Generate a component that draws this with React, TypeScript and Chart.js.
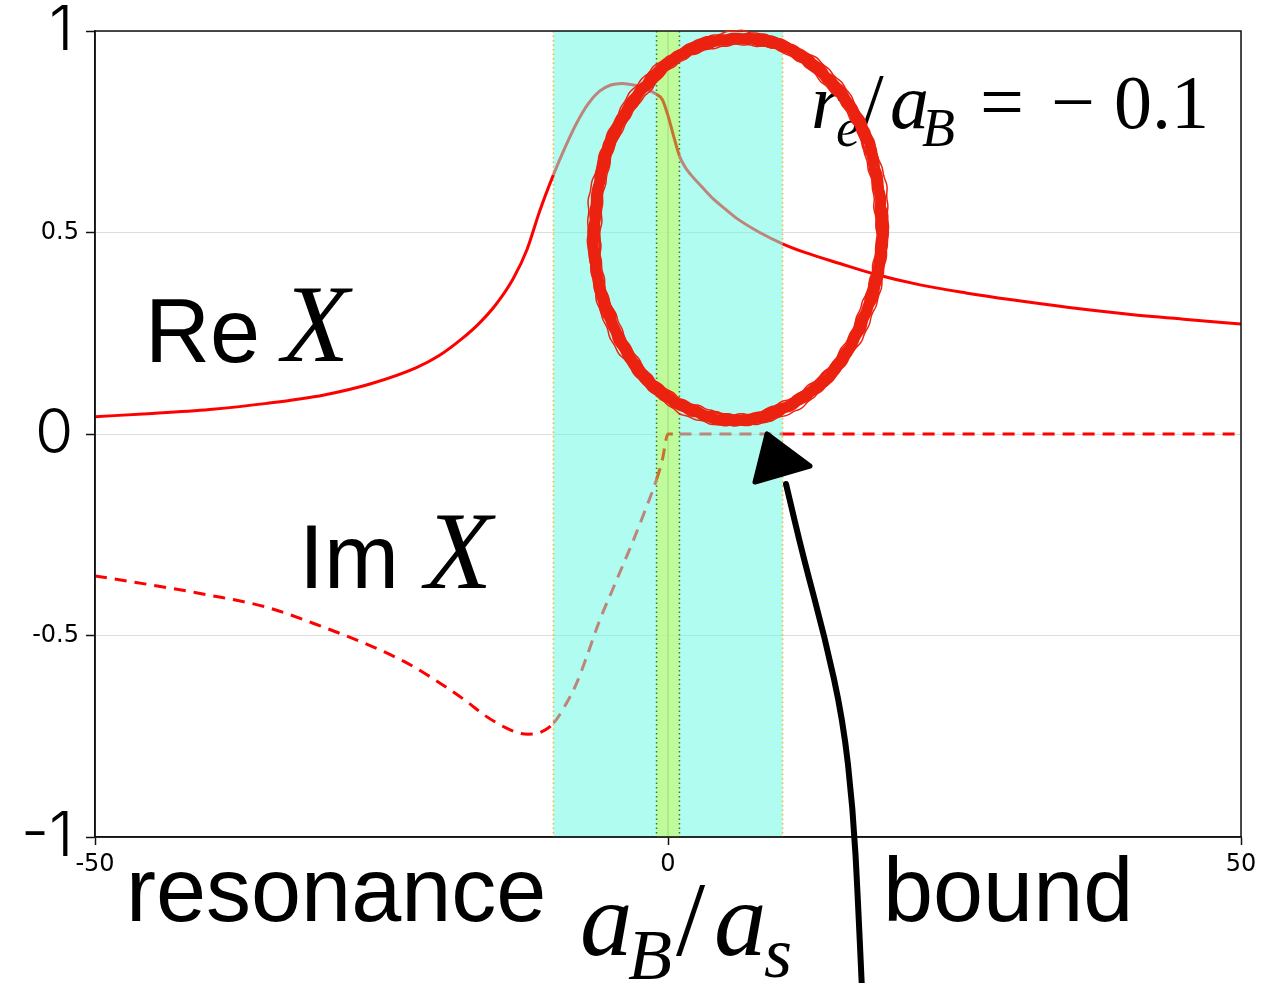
import React, { useEffect, useRef } from "react";
import { Chart, registerables } from "chart.js";

Chart.register(...registerables);

// ---- data ----
const reXs = [-50, -45, -40, -35, -30, -26, -22, -20, -18, -16.5, -15, -13.5, -12.3, -11.2, -10, -9, -8, -7, -6, -5, -4, -3, -2, -1, -0.5, 0, 0.5, 1, 1.5, 2, 3, 4, 5, 6, 8, 10, 12, 15, 18, 22, 26, 30, 35, 40, 45, 50];
const reYs = [0.043, 0.051, 0.061, 0.076, 0.097, 0.124, 0.164, 0.194, 0.236, 0.274, 0.322, 0.386, 0.458, 0.553, 0.643, 0.71, 0.77, 0.818, 0.85, 0.866, 0.87, 0.866, 0.857, 0.843, 0.83, 0.79, 0.738, 0.69, 0.662, 0.643, 0.612, 0.582, 0.558, 0.535, 0.5, 0.472, 0.45, 0.423, 0.397, 0.37, 0.35, 0.333, 0.314, 0.298, 0.285, 0.273];

const imXs = [-50, -45, -40, -35, -30, -26, -23, -21, -19, -17.5, -16, -15, -14, -13, -12.2, -11.2, -10, -9, -8, -7, -6, -5, -4, -3, -2, -1, -0.5, 0, 1, 10, 20, 30, 40, 50];
const imYs = [-0.352, -0.375, -0.4, -0.43, -0.48, -0.525, -0.565, -0.598, -0.635, -0.665, -0.698, -0.716, -0.731, -0.742, -0.745, -0.741, -0.718, -0.675, -0.62, -0.545, -0.465, -0.397, -0.33, -0.262, -0.19, -0.113, -0.065, 0, 0, 0, 0, 0, 0, 0];

const outerBand = [-10, 10]; // cyan region
const innerBand = [-1, 1]; // green region

const xTicks = [-50, 0, 50];
const yTickLabels: Record<string, string> = { "1": "1\u200A", "0.5": "0.5", "0": "0\u200A", "-0.5": "-0.5", "-1": "-1\u200A" };

// ---- styles ----
const RED = "#ff0000";
const ROSE = "rgb(188,134,124)";
const ORANGE = "rgb(200,115,45)";
const CYAN_FILL = "rgba(100,250,225,0.5)";
const GREEN_FILL = "rgba(200,250,110,0.65)";

const SANS = '"Liberation Sans", Arial, Helvetica, sans-serif';
const SERIF = '"Liberation Serif", "Times New Roman", Times, serif';

function segColor(c: any) {
  const m = (c.p0.parsed.x + c.p1.parsed.x) / 2;
  if (m > innerBand[0] && m < innerBand[1]) return ORANGE;
  if (m > outerBand[0] && m < outerBand[1]) return ROSE;
  return RED;
}

const bandsPlugin = {
  id: "bands",
  beforeDatasetsDraw(chart: any) {
    const { ctx, chartArea: a, scales } = chart;
    const xs = scales.x;
    ctx.save();
    ctx.beginPath();
    ctx.rect(a.left, a.top, a.right - a.left, a.bottom - a.top);
    ctx.clip();
    const o0 = xs.getPixelForValue(outerBand[0]);
    const o1 = xs.getPixelForValue(outerBand[1]);
    const i0 = xs.getPixelForValue(innerBand[0]);
    const i1 = xs.getPixelForValue(innerBand[1]);
    ctx.fillStyle = CYAN_FILL;
    ctx.fillRect(o0, a.top, o1 - o0, a.bottom - a.top);
    ctx.fillStyle = GREEN_FILL;
    ctx.fillRect(i0, a.top, i1 - i0, a.bottom - a.top);
    ctx.strokeStyle = "rgba(120,190,90,0.45)";
    ctx.lineWidth = 1;
    const z = xs.getPixelForValue(0);
    ctx.beginPath();
    ctx.moveTo(z, a.top);
    ctx.lineTo(z, a.bottom);
    ctx.stroke();
    ctx.setLineDash([1.5, 3]);
    ctx.lineWidth = 1.5;
    ctx.strokeStyle = "rgb(245,180,50)";
    for (const p of [o0, o1]) {
      ctx.beginPath();
      ctx.moveTo(p, a.top);
      ctx.lineTo(p, a.bottom);
      ctx.stroke();
    }
    ctx.strokeStyle = "rgb(50,120,50)";
    for (const p of [i0, i1]) {
      ctx.beginPath();
      ctx.moveTo(p, a.top);
      ctx.lineTo(p, a.bottom);
      ctx.stroke();
    }
    ctx.restore();
  },
  afterDatasetsDraw(chart: any) {
    const { ctx, chartArea: a } = chart;
    ctx.save();
    ctx.strokeStyle = "#111";
    ctx.lineWidth = 1.5;
    ctx.strokeRect(a.left, a.top, a.right - a.left, a.bottom - a.top);
    ctx.restore();
  },
};

function txt(ctx: CanvasRenderingContext2D, s: string, x: number, y: number, font: string) {
  ctx.font = font;
  ctx.fillText(s, x, y);
}

const annotPlugin = {
  id: "annot",
  afterDraw(chart: any) {
    const ctx: CanvasRenderingContext2D = chart.ctx;
    ctx.save();
    ctx.fillStyle = "#000";
    ctx.textAlign = "left";
    ctx.textBaseline = "alphabetic";
    txt(ctx, "Re", 145, 362, `90px ${SANS}`);
    txt(ctx, "X", 282, 361, `italic 110px ${SERIF}`);
    txt(ctx, "Im", 299, 588, `90px ${SANS}`);
    txt(ctx, "X", 425, 588, `italic 110px ${SERIF}`);
    txt(ctx, "resonance", 126, 921, `90px ${SANS}`);
    txt(ctx, "bound", 883, 921, `90px ${SANS}`);
    txt(ctx, "a", 580, 955, `italic 105px ${SERIF}`);
    txt(ctx, "B", 628, 979, `italic 72px ${SERIF}`);
    txt(ctx, "/", 676, 955, `105px ${SERIF}`);
    txt(ctx, "a", 714, 955, `italic 105px ${SERIF}`);
    txt(ctx, "s", 764, 977, `italic 72px ${SERIF}`);
    txt(ctx, "r", 811, 128, `italic 78px ${SERIF}`);
    txt(ctx, "e", 836, 146, `italic 54px ${SERIF}`);
    txt(ctx, "/", 862, 127, `78px ${SERIF}`);
    txt(ctx, "a", 890, 128, `italic 78px ${SERIF}`);
    txt(ctx, "B", 922, 146, `italic 54px ${SERIF}`);
    txt(ctx, "=", 980, 128, `78px ${SERIF}`);
    txt(ctx, "\u2212", 1051, 128, `78px ${SERIF}`);
    txt(ctx, "0.1", 1114, 128, `76px ${SERIF}`);

    // hand-drawn red ellipse (crayon-like)
    ctx.save();
    ctx.translate(738, 229);
    ctx.rotate(0.03);
    ctx.strokeStyle = "rgb(236,34,16)";
    const passes = [
      { w: 11, d: 0, ph: 0 },
      { w: 3, d: 4, ph: 1.3 },
      { w: 3, d: -4, ph: 2.1 },
      { w: 1.5, d: 6, ph: 3.7 },
      { w: 1.5, d: -6, ph: 0.6 },
    ];
    for (const p of passes) {
      ctx.lineWidth = p.w;
      ctx.beginPath();
      for (let i = 0; i <= 720; i++) {
        const t = (i / 720) * Math.PI * 2;
        const wob = p.d + 0.9 * Math.sin(t * 9 + p.ph) + 0.6 * Math.sin(t * 23 + p.ph * 2) + 0.5 * Math.sin(t * 61 + p.ph);
        const x = (144 + wob) * Math.cos(t);
        const y = (191 + wob) * Math.sin(t);
        if (i === 0) ctx.moveTo(x, y);
        else ctx.lineTo(x, y);
      }
      ctx.stroke();
    }
    ctx.restore();

    // black hand-drawn arrow
    ctx.strokeStyle = "#000";
    ctx.fillStyle = "#000";
    ctx.lineCap = "round";
    ctx.lineJoin = "round";
    ctx.lineWidth = 6;
    const pts = [
      [862, 990],
      [858, 900],
      [853, 809],
      [843, 720],
      [825, 638],
      [803, 556],
      [786, 484],
    ];
    ctx.beginPath();
    ctx.moveTo(pts[0][0], pts[0][1]);
    for (let i = 1; i < pts.length - 1; i++) {
      const mx = (pts[i][0] + pts[i + 1][0]) / 2;
      const my = (pts[i][1] + pts[i + 1][1]) / 2;
      ctx.quadraticCurveTo(pts[i][0], pts[i][1], mx, my);
    }
    ctx.lineTo(pts[pts.length - 1][0], pts[pts.length - 1][1]);
    ctx.stroke();
    ctx.beginPath();
    ctx.moveTo(767, 434);
    ctx.lineTo(755, 482);
    ctx.lineTo(810, 466);
    ctx.closePath();
    ctx.lineWidth = 5;
    ctx.fill();
    ctx.stroke();
    ctx.restore();
  },
};

export default function App() {
  const ref = useRef<HTMLCanvasElement | null>(null);
  useEffect(() => {
    document.body.style.margin = "0";
    const canvas = ref.current;
    if (!canvas) return;
    const chart = new Chart(canvas, {
      type: "line",
      data: {
        datasets: [
          {
            label: "Re X",
            data: reXs.map((x, i) => ({ x, y: reYs[i] })),
            borderColor: RED,
            borderWidth: 3,
            pointRadius: 0,
            cubicInterpolationMode: "monotone",
            segment: { borderColor: segColor },
          },
          {
            label: "Im X",
            data: imXs.map((x, i) => ({ x, y: imYs[i] })),
            borderColor: RED,
            borderWidth: 3,
            borderDash: [12, 8],
            pointRadius: 0,
            cubicInterpolationMode: "monotone",
            segment: { borderColor: segColor },
          },
        ],
      },
      options: {
        responsive: false,
        animation: false,
        events: [],
        layout: { padding: { top: 31, right: 28, left: 0, bottom: 0 } },
        plugins: { legend: { display: false }, tooltip: { enabled: false } },
        scales: {
          x: {
            type: "linear",
            min: -50,
            max: 50,
            afterBuildTicks: (s: any) => {
              s.ticks = xTicks.map((v) => ({ value: v }));
            },
            afterFit: (s: any) => {
              s.height = 146;
              s.paddingLeft = 0;
              s.paddingRight = 0;
            },
            ticks: {
              color: "#000",
              font: { family: '"DejaVu Sans", sans-serif', size: 24, lineHeight: 1 },
              padding: 8,
              maxRotation: 0,
              autoSkip: false,
            },
            grid: { color: "#dddddd", lineWidth: 1, tickColor: "#111", tickLength: 8, tickWidth: 1.5 },
            border: { color: "#111", width: 1.5 },
          },
          y: {
            min: -1,
            max: 1,
            afterFit: (s: any) => {
              s.width = 95;
              s.paddingTop = 0;
              s.paddingBottom = 0;
            },
            ticks: {
              stepSize: 0.5,
              color: "#000",
              padding: 7,
              callback: (v: any) => yTickLabels[String(v)] ?? String(v),
              font: (c: any) =>
                c.tick && Number.isInteger(c.tick.value)
                  ? { family: 'Inter, "Open Sans", "Liberation Sans", sans-serif', size: 62, weight: "300", lineHeight: 1 }
                  : { family: '"DejaVu Sans", sans-serif', size: 24, lineHeight: 1 },
            },
            grid: { color: "#dddddd", lineWidth: 1, tickColor: "#111", tickLength: 9, tickWidth: 1.5 },
            border: { color: "#111", width: 1.5 },
          },
        },
      } as any,
      plugins: [bandsPlugin, annotPlugin],
    });
    return () => chart.destroy();
  }, []);
  return (
    <div style={{ width: 1269, height: 983, background: "#fff" }}>
      <canvas ref={ref} width={1269} height={983} style={{ display: "block" }} />
    </div>
  );
}
